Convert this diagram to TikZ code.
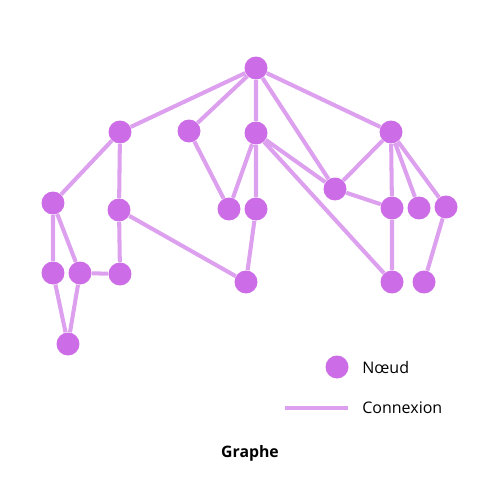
\documentclass[tikz,border=0pt]{standalone}
\usepackage{fontspec}
\setmainfont{Open Sans}
\usetikzlibrary{backgrounds}
\definecolor{noeud}{HTML}{CC6CE6}
\definecolor{lien}{HTML}{DDA0EE}
\begin{document}
\begin{tikzpicture}[x=0.02cm,y=-0.02cm]
				\useasboundingbox (0,0) rectangle (500,500);
				\tikzstyle{every node}=[inner sep=0pt, minimum size=0.46cm, circle, fill=noeud]
				\tikzstyle{edge}=[draw=lien, line width=2.3pt]
				\tikzstyle{texte}=[fill=none, minimum size=0pt, rectangle, font=\fontsize{9.1}{11}\selectfont, anchor=west]
				\draw (256,68) node (v1) {};
				\draw (120,132) node (v2) {};
				\draw (189,131) node (v3) {};
				\draw (256,133) node (v4) {};
				\draw (391,132) node (v5) {};
				\draw (53,203) node (v6) {};
				\draw (119,210) node (v7) {};
				\draw (229,209) node (v8) {};
				\draw (256,209) node (v9) {};
				\draw (335,189) node (v10) {};
				\draw (392,208) node (v11) {};
				\draw (419,208) node (v12) {};
				\draw (446,207) node (v13) {};
				\draw (53,273) node (v14) {};
				\draw (80,273) node (v15) {};
				\draw (120,274) node (v16) {};
				\draw (246,282) node (v17) {};
				\draw (392,282) node (v18) {};
				\draw (424,282) node (v19) {};
				\draw (68,344) node (v20) {};
				% legende
				\draw (337,367) node (n) {};
				\draw (362,367) node[texte] (tn) {N\oe ud};
				\coordinate (c1) at (285,408);
				\coordinate (c2) at (348,408);
				\draw (362,408) node[texte] (tc) {Connexion};
				\draw (250,453) node[texte, anchor=center, font=\fontsize{9}{11}\selectfont\bfseries] (titre) {Graphe};
				\begin{pgfonlayer}{background}
				\draw[edge] (v2) -- (v1) -- (v3) (v4) -- (v1) -- (v5) (v1) -- (v10)
				(v6) -- (v2) -- (v7) (v3) -- (v8) -- (v4) -- (v9) -- (v17) -- (v7) -- (v16) -- (v15) -- (v6) -- (v14) -- (v20) -- (v15)
				(v4) -- (v10) -- (v5) -- (v11) -- (v10) (v4) -- (v18) -- (v11)
				(v12) -- (v5) -- (v13) -- (v19);
				\draw[edge] (c1) -- (c2);
				\end{pgfonlayer}
			\end{tikzpicture}
\end{document}
